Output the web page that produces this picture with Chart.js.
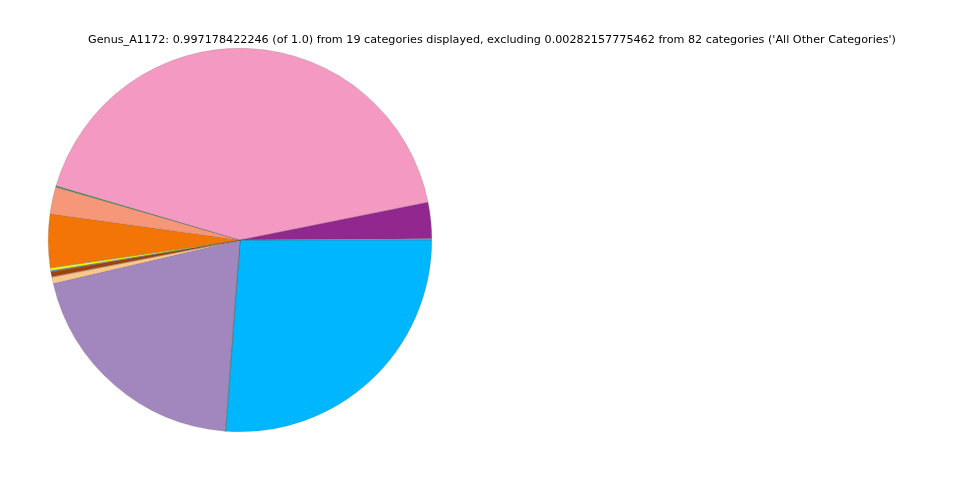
<!DOCTYPE html>
<html>
<head>
<meta charset="utf-8">
<script src="https://cdn.jsdelivr.net/npm/chart.js@4.4.1/dist/chart.umd.min.js"></script>
<style>
  html, body { margin: 0; padding: 0; background: #fff; }
  #wrap { position: relative; width: 960px; height: 480px; }
  #title {
    position: absolute; left: 0; width: 984px; top: 33px;
    text-align: center; font-family: "DejaVu Sans", sans-serif; font-size: 11.2px;
    color: #000; white-space: nowrap; line-height: 14px;
  }
</style>
</head>
<body>
<div id="wrap">
  <canvas id="myChart" width="960" height="480"></canvas>
  <div id="title"></div>
</div>
<script>
// slices in matplotlib order (counterclockwise from 3 o'clock), fractions of the displayed total
var titleText = "Genus_A1172: 0.997178422246 (of 1.0) from 19 categories displayed, excluding 0.00282157775462 from 82 categories ('All Other Categories')";
var categories = ['c01', 'c02', 'c03', 'c04', 'c05', 'c06', 'c07', 'c08', 'c09', 'c10',
                  'c11', 'c12', 'c13', 'c14', 'c15', 'c16', 'c17', 'c18', 'c19'];
var values = [0.0010, 0.0306, 0.4236, 0.0004, 0.0008, 0.0228, 0.0450, 0.0004, 0.0019, 0.0008,
              0.0004, 0.0042, 0.0004, 0.0053, 0.2011, 0.0004, 0.0004, 0.0004, 0.2622];
var colors = ['#7f9fa8', '#92278f', '#f49ac2', '#3cb44b', '#2e8b57', '#f7977a', '#f37506', '#fff200', '#ffff00', '#6f8fa0',
              '#8b4513', '#a0410d', '#fdc68a', '#fdc68a', '#a187be', '#b0b0b0', '#00bfff', '#0088cc', '#00b7ff'];

document.getElementById('title').textContent = titleText;

// Chart.js draws clockwise, so feed the slices reversed starting at 3 o'clock
var revLabels = categories.slice().reverse();
var revValues = values.slice().reverse();
var revColors = colors.slice().reverse();

var myChart = new Chart('myChart', {
    type: 'pie',
    data: {
        labels: revLabels,
        datasets: [{
            data: revValues,
            backgroundColor: revColors,
            borderColor: 'rgba(90,90,90,0.5)',
            borderWidth: 0.4
        }]
    },
    options: {
        responsive: false,
        animation: false,
        rotation: 90,
        layout: {
            padding: { left: 48, right: 528, top: 48, bottom: 48 }
        },
        plugins: {
            legend: { display: false },
            tooltip: { enabled: false }
        }
    }
});
</script>
</body>
</html>
